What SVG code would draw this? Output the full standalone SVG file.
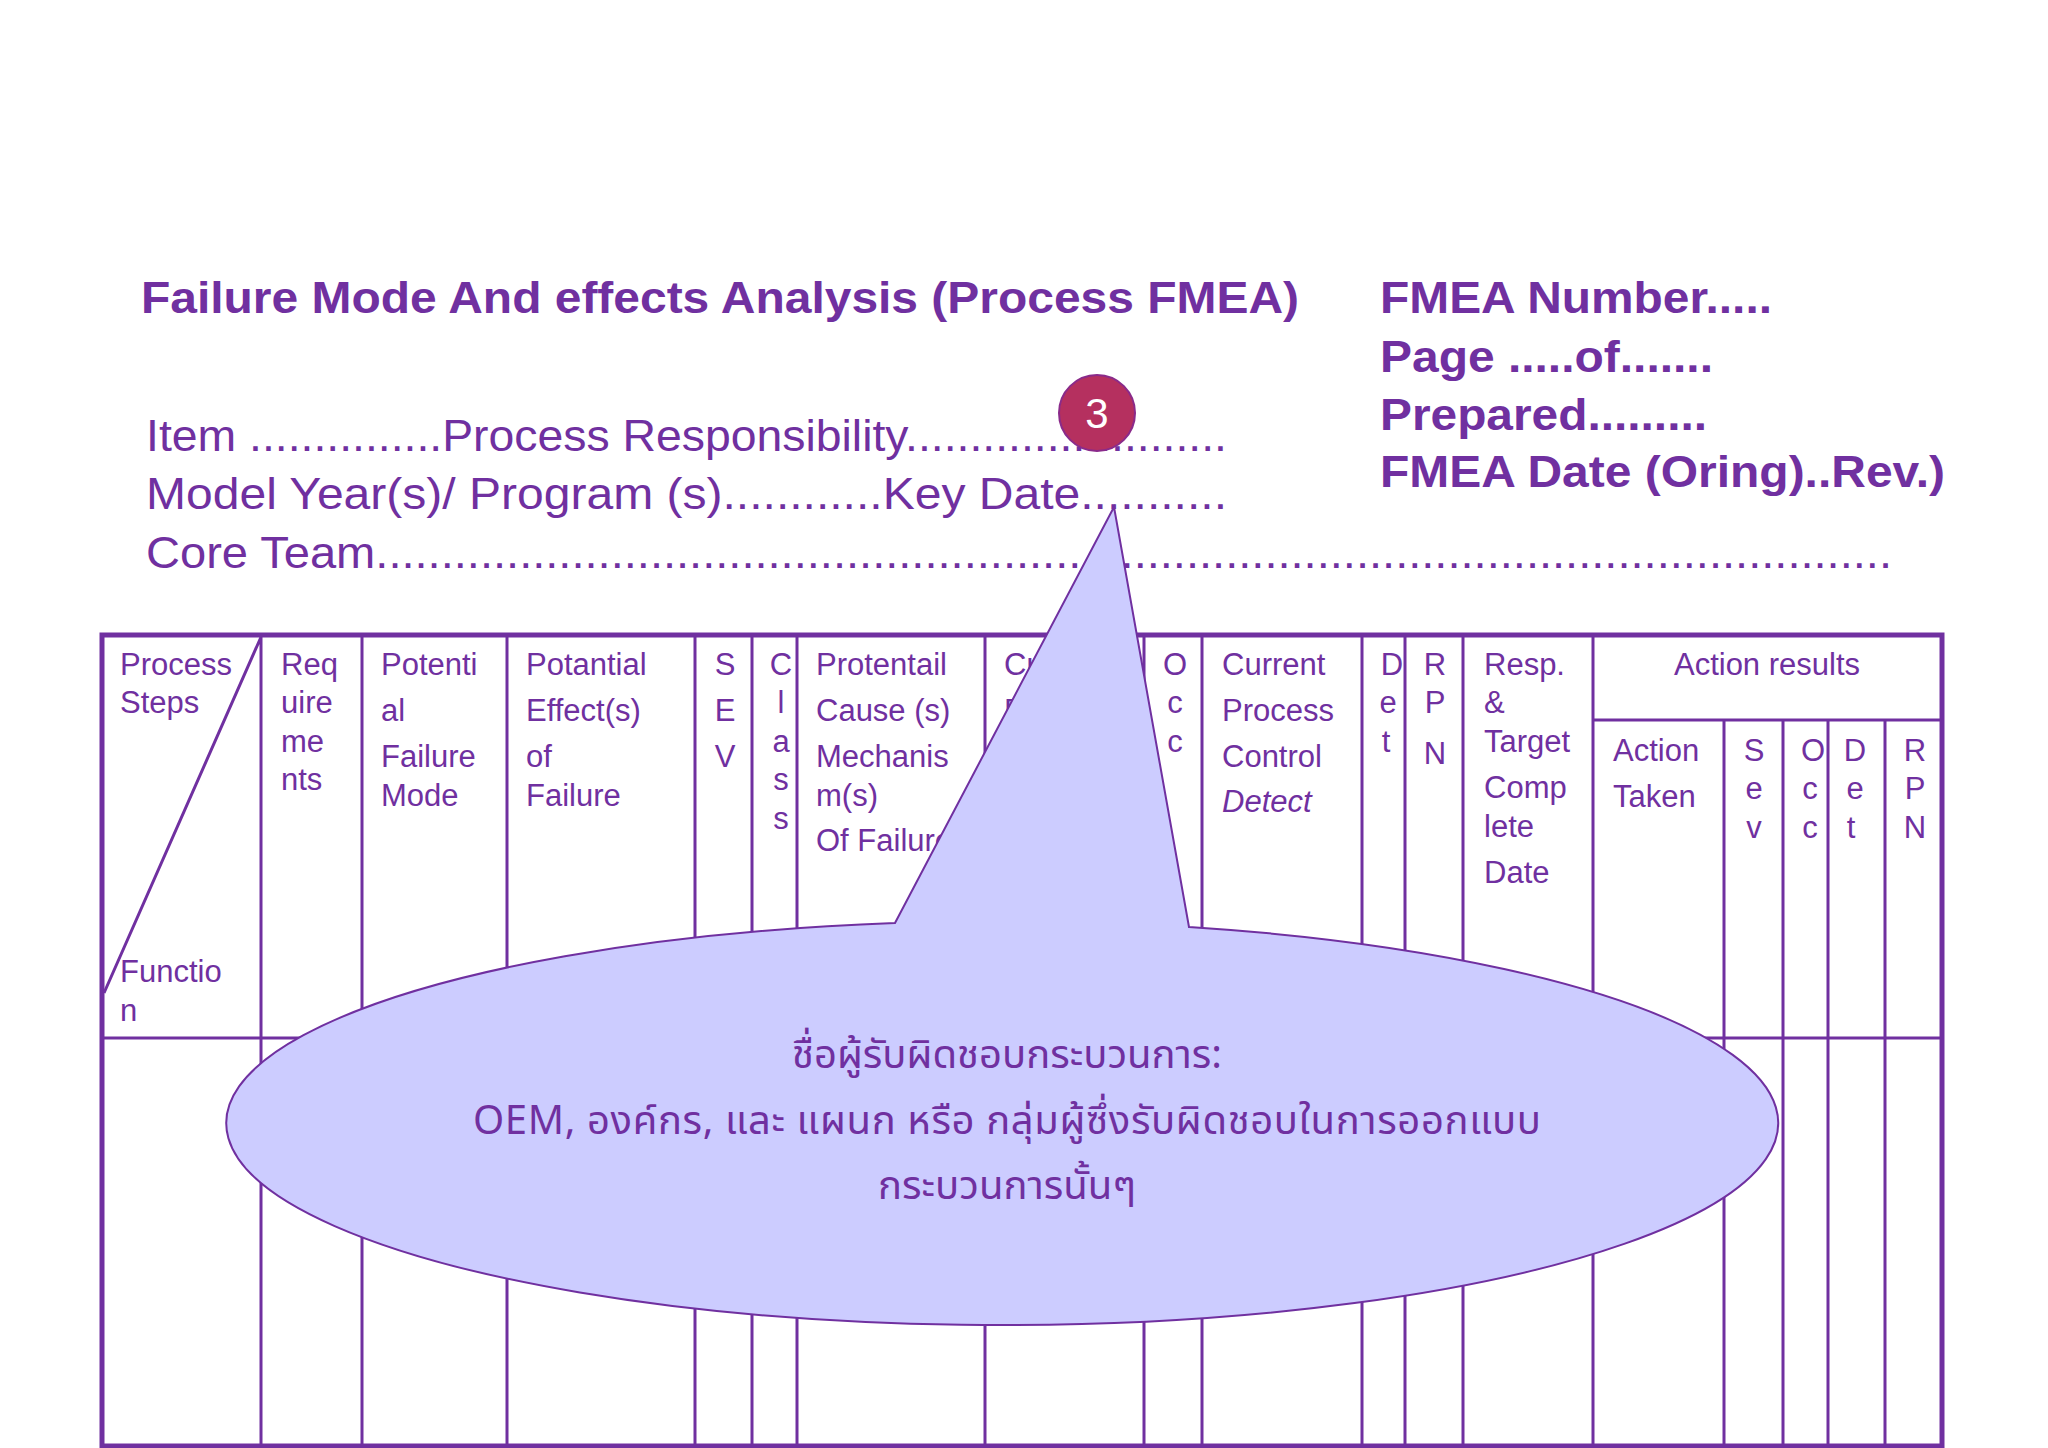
<svg xmlns="http://www.w3.org/2000/svg" width="2048" height="1448" viewBox="0 0 2048 1448">
<style>
text{font-family:"Liberation Sans",Arial,sans-serif;fill:#7030a0}
.h{font-size:31px}
.t{font-size:44px;font-weight:bold}
.i{font-size:45px}
.c{text-anchor:middle}
.ln{stroke:#7030a0;stroke-width:3;fill:none}
.th{font-family:"Noto Sans Thai","Noto Sans","DejaVu Sans",sans-serif;font-size:40px;text-anchor:middle}
</style>
<rect width="2048" height="1448" fill="#fff"/>
<g id="title">
<text class="t" x="141" y="313" textLength="1158" lengthAdjust="spacingAndGlyphs">Failure Mode And effects Analysis (Process FMEA)</text>
<text class="t" x="1380" y="313" textLength="392" lengthAdjust="spacingAndGlyphs">FMEA Number.....</text>
<text class="t" x="1380" y="372" textLength="333" lengthAdjust="spacingAndGlyphs">Page .....of.......</text>
<text class="t" x="1380" y="430" textLength="327" lengthAdjust="spacingAndGlyphs">Prepared.........</text>
<text class="t" x="1380" y="487" textLength="565" lengthAdjust="spacingAndGlyphs">FMEA Date (Oring)..Rev.)</text>
<text class="i" x="146" y="451" textLength="1081" lengthAdjust="spacingAndGlyphs">Item ...............Process Responsibility.........................</text>
<text class="i" x="146" y="509" textLength="1081" lengthAdjust="spacingAndGlyphs">Model Year(s)/ Program (s)............Key Date...........</text>
<text class="i" x="146" y="568" textLength="1746" lengthAdjust="spacingAndGlyphs">Core Team....................................................................................................................</text>
</g>
<g id="table">
<rect x="102" y="635" width="1840" height="811" class="ln" style="stroke-width:5"/>
<path class="ln" d="M261 635V1446M362 635V1446M507 635V1446M695 635V1446M752 635V1446M797 635V1446M985 635V1446M1144 635V1446M1202 635V1446M1362 635V1446M1405 635V1446M1463 635V1446M1593 635V1446M1724 720V1446M1783 720V1446M1828 720V1446M1885 720V1446M1593 720H1942M102 1038H1942M261 637L104 993"/>
<g class="h">
<text x="120" y="675">Process</text><text x="120" y="713">Steps</text>
<text x="120" y="982">Functio</text><text x="120" y="1021">n</text>
<text x="281" y="675">Req</text><text x="281" y="713">uire</text><text x="281" y="752">me</text><text x="281" y="790">nts</text>
<text x="381" y="675">Potenti</text><text x="381" y="721">al</text><text x="381" y="767">Failure</text><text x="381" y="806">Mode</text>
<text x="526" y="675">Potantial</text><text x="526" y="721">Effect(s)</text><text x="526" y="767">of</text><text x="526" y="806">Failure</text>
<text class="c" x="725" y="675">S</text><text class="c" x="725" y="721">E</text><text class="c" x="725" y="767">V</text>
<text class="c" x="781" y="675">C</text><text class="c" x="781" y="713">l</text><text class="c" x="781" y="752">a</text><text class="c" x="781" y="790">s</text><text class="c" x="781" y="829">s</text>
<text x="816" y="675">Protentail</text><text x="816" y="721">Cause (s)</text><text x="816" y="767">Mechanis</text><text x="816" y="806">m(s)</text><text x="816" y="851">Of Failure</text>
<text x="1004" y="675">Current</text><text x="1004" y="721">Process</text><text x="1004" y="767">Control</text><text x="1004" y="812">Prevent</text>
<text class="c" x="1175" y="675">O</text><text class="c" x="1175" y="713">c</text><text class="c" x="1175" y="752">c</text>
<text x="1222" y="675">Current</text><text x="1222" y="721">Process</text><text x="1222" y="767">Control</text><text x="1222" y="812" font-style="italic">Detect</text>
<text class="c" x="1392" y="675">D</text><text class="c" x="1388" y="713">e</text><text class="c" x="1386" y="752">t</text>
<text class="c" x="1435" y="675">R</text><text class="c" x="1435" y="713">P</text><text class="c" x="1435" y="764">N</text>
<text x="1484" y="675">Resp.</text><text x="1484" y="713">&amp;</text><text x="1484" y="752">Target</text><text x="1484" y="798">Comp</text><text x="1484" y="837">lete</text><text x="1484" y="883">Date</text>
<text class="c" x="1767" y="675">Action results</text>
<text x="1613" y="761">Action</text><text x="1613" y="807">Taken</text>
<text class="c" x="1754" y="761">S</text><text class="c" x="1754" y="799">e</text><text class="c" x="1754" y="838">v</text>
<text class="c" x="1813" y="761">O</text><text class="c" x="1810" y="799">c</text><text class="c" x="1810" y="838">c</text>
<text class="c" x="1855" y="761">D</text><text class="c" x="1855" y="799">e</text><text class="c" x="1851" y="838">t</text>
<text class="c" x="1915" y="761">R</text><text class="c" x="1915" y="799">P</text><text class="c" x="1915" y="838">N</text>
</g>
</g>
<g id="callout">
<path d="M895 923 L1114 507 L1189 927 A776 202 0 1 1 895 923 Z" fill="#ccccff" stroke="#7030a0" stroke-width="2"/>
<text class="th" x="1007" y="1068">ชื่อผู้รับผิดชอบกระบวนการ:</text>
<text class="th" x="1007" y="1134" textLength="1068" lengthAdjust="spacing">OEM, องค์กร, และ แผนก  หรือ กลุ่มผู้ซึ่งรับผิดชอบในการออกแบบ</text>
<text class="th" x="1007" y="1199">กระบวนการนั้นๆ</text>
</g>
<g id="badge">
<circle cx="1097" cy="413" r="38" fill="#b5305f" stroke="#8a2a8a" stroke-width="2"/>
<text x="1097" y="428" text-anchor="middle" font-size="42" style="fill:#fff">3</text>
</g>
</svg>
